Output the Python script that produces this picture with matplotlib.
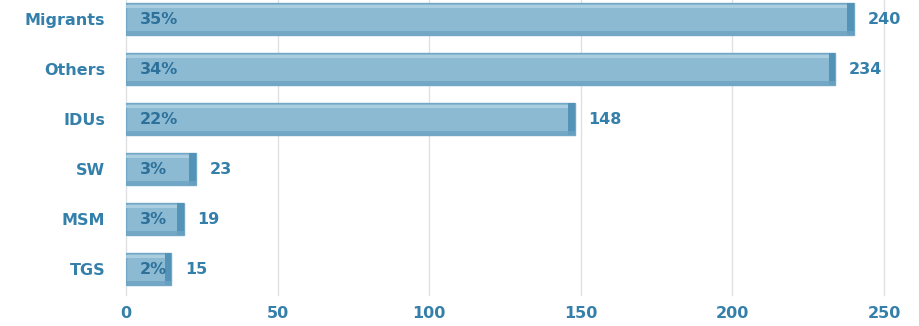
import matplotlib
matplotlib.use("Agg")
import matplotlib.pyplot as plt

categories = ["TGS", "MSM", "SW", "IDUs", "Others", "Migrants"]
values = [15, 19, 23, 148, 234, 240]
percents = ["2%", "3%", "3%", "22%", "34%", "35%"]
xticks = [0, 50, 100, 150, 200, 250]

plt.rcParams['font.family'] = ['DejaVu Sans']
text_color = '#3580ab'
pct_color = '#2d7099'
fs = 11.5

fig = plt.figure(figsize=(9.19, 3.26), dpi=100)
ax = fig.add_axes([126/919, 1 - 295/326, (884-126)/919, 295/326])

ypos = list(range(len(categories)))
ax.barh(ypos, values, height=0.64, color='#8cbad3', edgecolor='#72a8c6', linewidth=1.0, zorder=3)
# darker bevel at the bar ends
cap = [2.2] * len(values)
ax.barh(ypos, cap, left=[v - c for v, c in zip(values, cap)], height=0.64,
        color='#5293b7', edgecolor='none', zorder=4)
# subtle highlight near top of bar
ax.barh([y + 0.25 for y in ypos], [v - c for v, c in zip(values, cap)], height=0.07,
        color='#b3d3e4', edgecolor='none', alpha=0.8, zorder=4)
# soft shadow near bottom
ax.barh([y - 0.28 for y in ypos], values, height=0.07,
        color='#6da3c3', edgecolor='none', alpha=0.8, zorder=4)

for y, v, p in zip(ypos, values, percents):
    ax.text(4.5, y, p, va='center', ha='left', fontsize=fs, color=pct_color,
            fontweight='bold', zorder=5)
    ax.text(v + 4.5, y, str(v), va='center', ha='left', fontsize=fs, color=text_color,
            fontweight='bold', zorder=5)

ax.set_xlim(0, 250)
ax.set_ylim(-0.52, 5.38)
ax.set_yticks(ypos)
ax.set_yticklabels(categories)
ax.set_xticks(xticks)
ax.tick_params(axis='y', length=0, pad=15, labelsize=fs, labelcolor=text_color)
ax.tick_params(axis='x', length=0, pad=8, labelsize=fs, labelcolor=text_color)
for lbl in ax.get_yticklabels() + ax.get_xticklabels():
    lbl.set_fontweight('bold')
for s in ax.spines.values():
    s.set_visible(False)
ax.grid(axis='x', color='#dde1e4', linewidth=1.0, zorder=0)
for gl in ax.get_xgridlines():
    gl.set_clip_on(False)
ax.set_axisbelow(True)

fig.savefig("out.png", dpi=100)
